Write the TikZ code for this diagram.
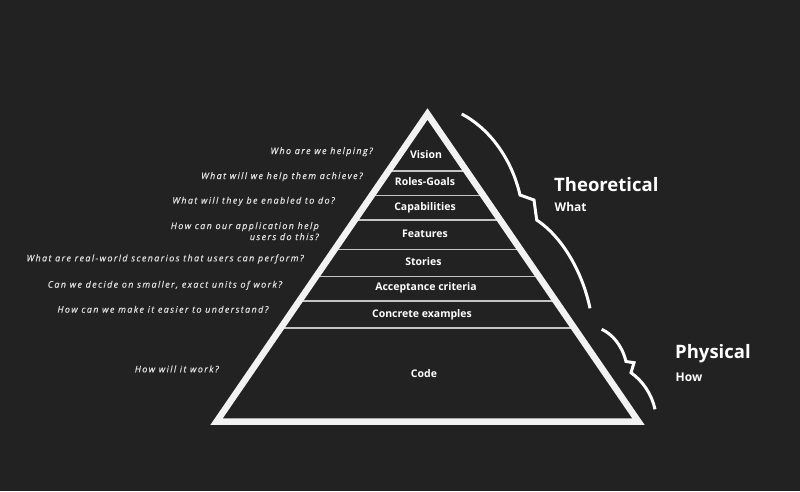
\documentclass[tikz,border=0pt]{standalone}
\usepackage{fontspec}
\setmainfont{Open Sans}
\newfontfamily\qfont[LetterSpace=15,FakeBold=0.6]{Open Sans}
\definecolor{bg}{HTML}{222222}
\definecolor{pyrwhite}{HTML}{F2F2F2}
\definecolor{tiergray}{HTML}{C4C4C4}
\definecolor{qgray}{HTML}{E0E0E0}
\tikzset{
  pyr/.style={draw=pyrwhite, line width=6.5pt, line join=miter},
  tier/.style={draw=tiergray, line width=1.5pt},
  lab/.style={text=white, font=\bfseries\fontsize{10.5}{12}\selectfont, inner sep=0pt},
  ques/.style={text=qgray, font=\qfont\itshape\fontsize{9}{11}\selectfont, inner sep=0pt, anchor=east, align=right},
  bigword/.style={text=white, font=\bfseries\fontsize{18.5}{20}\selectfont, inner sep=0pt, anchor=west},
  smallword/.style={text=white, font=\bfseries\fontsize{12}{14}\selectfont, inner sep=0pt, anchor=west},
  bracket/.style={draw=white, line width=3pt, line join=miter}
}
\begin{document}
\begin{tikzpicture}[x=1pt,y=-1pt]
\fill[bg] (0,0) rectangle (800,491);
\useasboundingbox (0,0) rectangle (800,491);
\coordinate (apex) at (427.5,114);
\coordinate (bl) at (216.5,421.7);
\coordinate (br) at (638.5,421.7);
\begin{scope}
  \clip (apex) -- (bl) -- (br) -- cycle;
  \foreach \yy in {171,195.3,220,249.3,276.7,301,328}
    \draw[tier] (200,\yy) -- (660,\yy);
\end{scope}
\draw[pyr] (apex) -- (bl) -- (br) -- cycle;
% tier labels
\node[lab] (vision) at (426,155) {Vision};
\node[lab] (roles) at (425,182) {Roles-Goals};
\node[lab] (capab) at (425,207.7) {Capabilities};
\node[lab] (feat) at (425,233.3) {Features};
\node[lab] (stories) at (423.5,261.7) {Stories};
\node[lab] (accept) at (426,287.3) {Acceptance criteria};
\node[lab] (concrete) at (422,314.3) {Concrete examples};
\node[lab] (code) at (424,373.7) {Code};
% questions
\node[ques] (q1) at (373,151.7) {Who are we helping?};
\node[ques] (q2) at (363,176.7) {What will we help them achieve?};
\node[ques] (q3) at (335,201.3) {What will they be enabled to do?};
\node[ques] (q4) at (319,231.2) {How can our application help\\users do this?};
\node[ques] (q5) at (304,259) {What are real-world scenarios that users can perform?};
\node[ques] (q6) at (282.3,285.3) {Can we decide on smaller, exact units of work?};
\node[ques] (q7) at (268.7,309.3) {How can we make it easier to understand?};
\node[ques] (q8) at (219,369) {How will it work?};
% right side
\node[bigword] (theo) at (554,185) {Theoretical};
\node[smallword] (what) at (554.5,207.3) {What};
\node[bigword] (phys) at (675,354) {Physical};
\node[smallword] (how) at (675.5,377.3) {How};
% brackets
\draw[bracket] (461.7,114) .. controls (487,127) and (511,156) .. (520,195)
  -- (534,200) -- (536.7,220)
  .. controls (561,236) and (582,270) .. (590,308.3);
\draw[bracket] (601.7,329.3) .. controls (612,334) and (622,345) .. (626,361.5)
  -- (634,362.7) -- (631,372.7)
  .. controls (643,381) and (652,395) .. (655,409.3);
\end{tikzpicture}
\end{document}
